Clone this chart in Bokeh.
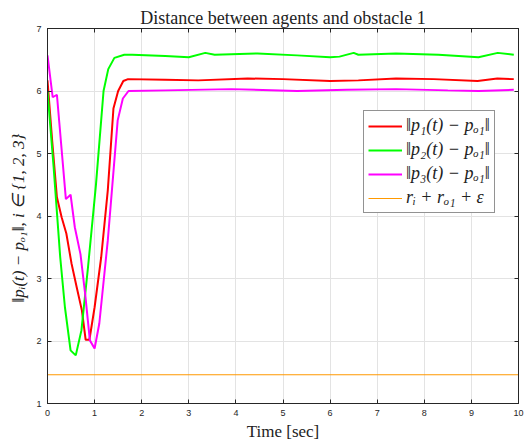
from bokeh.plotting import figure
from bokeh.models import LinearAxis, Legend, LegendItem, FixedTicker, Range1d
from bokeh.embed import file_html
from bokeh.resources import INLINE

t_red = [0, 0.1, 0.2, 0.3, 0.4, 0.51, 0.62, 0.73, 0.81, 0.89, 1.0, 1.14, 1.28, 1.4, 1.5, 1.61, 1.71,
         2.5, 3.2, 4.25, 5.0, 6.0, 6.6, 7.4, 8.2, 9.13, 9.55, 9.9]
red = [6.17, 5.2, 4.30, 3.98, 3.72, 3.24, 2.86, 2.49, 2.02, 2.02, 2.54, 3.34, 4.41, 5.72, 6.0, 6.16, 6.19,
       6.18, 6.17, 6.20, 6.19, 6.16, 6.17, 6.20, 6.19, 6.16, 6.20, 6.19]

t_green = [0, 0.13, 0.27, 0.37, 0.49, 0.60, 0.72, 0.86, 1.03, 1.19, 1.29, 1.42, 1.63, 1.8, 2.5, 3.0,
           3.35, 3.55, 4.46, 5.3, 6.0, 6.2, 6.5, 6.6, 7.4, 8.3, 9.15, 9.56, 9.9]
green = [6.0, 4.78, 3.34, 2.54, 1.85, 1.77, 2.17, 3.18, 4.51, 6.0, 6.35, 6.53, 6.58, 6.58, 6.56, 6.54,
         6.61, 6.58, 6.60, 6.57, 6.54, 6.55, 6.61, 6.58, 6.60, 6.58, 6.54, 6.61, 6.58]

t_mag = [0, 0.11, 0.2, 0.25, 0.39, 0.49, 0.58, 0.70, 0.80, 0.90, 1.0, 1.1, 1.28, 1.49, 1.6, 1.72,
         2.5, 3.9, 5.3, 6.35, 7.4, 8.5, 9.15, 9.9]
mag = [6.57, 5.9, 5.94, 5.5, 4.27, 4.34, 3.82, 3.39, 2.75, 2.01, 1.88, 2.28, 3.61, 5.53, 5.88, 6.0,
       6.01, 6.03, 6.0, 6.02, 6.03, 6.01, 6.0, 6.02]

t_bound = [0, 10]
bound = [1.46, 1.46]

x_ticks = [0, 1, 2, 3, 4, 5, 6, 7, 8, 9, 10]
y_ticks = [1, 2, 3, 4, 5, 6, 7]

labels = ["‖p₁(t) − pₒ₁‖", "‖p₂(t) − pₒ₁‖", "‖p₃(t) − pₒ₁‖", "rᵢ + rₒ₁ + ε"]

SERIF = "Liberation Serif"
SANS = "Liberation Sans"
AX = "#262626"

p = figure(width=528, height=447, output_backend="svg", toolbar_location=None,
           x_range=Range1d(0, 10), y_range=Range1d(1, 7),
           min_border_left=47, min_border_right=10, min_border_bottom=44, min_border_top=28,
           title="Distance between agents and obstacle 1")
p.title.text_font = SERIF
p.title.text_font_size = "18px"
p.title.text_font_style = "normal"
p.title.align = "center"
p.title.text_color = "#222222"
p.title.standoff = 2

p.background_fill_color = "white"
p.border_fill_color = "white"
p.outline_line_color = AX
p.outline_line_width = 1

p.xgrid.ticker = FixedTicker(ticks=x_ticks)
p.ygrid.ticker = FixedTicker(ticks=y_ticks)
p.grid.grid_line_color = "#e3e3e3"
p.grid.grid_line_width = 1

for ax in p.xaxis + p.yaxis:
    ax.major_tick_in = 4
    ax.major_tick_out = 0
    ax.minor_tick_in = 0
    ax.minor_tick_out = 0
    ax.axis_line_color = AX
    ax.major_tick_line_color = AX
    ax.major_label_text_font = SANS
    ax.major_label_text_font_size = "9px"
    ax.major_label_text_color = "#262626"
    ax.axis_label_text_font = SERIF
    ax.axis_label_text_font_size = "17px"
    ax.axis_label_text_font_style = "normal"
    ax.axis_label_text_color = "#222222"

p.xaxis.ticker = FixedTicker(ticks=x_ticks)
p.yaxis.ticker = FixedTicker(ticks=y_ticks)
p.xaxis.axis_label = "Time [sec]"
p.yaxis.axis_label = "‖pᵢ(t) − pₒ₁‖,  i ∈ {1, 2, 3}"
p.yaxis.axis_label_text_font_size = "17px"
p.yaxis.axis_label_text_font_style = "italic"
p.xaxis.major_label_standoff = 6
p.yaxis.major_label_standoff = 6
p.xaxis.axis_label_standoff = 3
p.yaxis.axis_label_standoff = 5

blank_x = {t: "" for t in x_ticks}
blank_y = {t: "" for t in y_ticks}
top = LinearAxis(ticker=FixedTicker(ticks=x_ticks), major_label_overrides=blank_x,
                 major_tick_in=4, major_tick_out=0, minor_tick_in=0, minor_tick_out=0,
                 axis_line_color=AX, major_tick_line_color=AX, major_label_standoff=0)
right = LinearAxis(ticker=FixedTicker(ticks=y_ticks), major_label_overrides=blank_y,
                   major_tick_in=4, major_tick_out=0, minor_tick_in=0, minor_tick_out=0,
                   axis_line_color=AX, major_tick_line_color=AX, major_label_standoff=0)
p.add_layout(top, "above")
p.add_layout(right, "right")

r1 = p.line(t_red, red, line_color="#ff0000", line_width=2)
r2 = p.line(t_green, green, line_color="#00ff00", line_width=2)
r3 = p.line(t_mag, mag, line_color="#ff00ff", line_width=2)
r4 = p.line(t_bound, bound, line_color="#ff9900", line_width=1)

legend = Legend(items=[LegendItem(label=labels[0], renderers=[r1]),
                       LegendItem(label=labels[1], renderers=[r2]),
                       LegendItem(label=labels[2], renderers=[r3]),
                       LegendItem(label=labels[3], renderers=[r4])],
                location=(316, 190))
legend.label_text_font = SERIF
legend.label_text_font_size = "18px"
legend.label_text_font_style = "italic"
legend.label_text_color = "#222222"
legend.glyph_width = 34
legend.glyph_height = 18
legend.label_height = 18
legend.spacing = 3
legend.padding = 4
legend.margin = 0
legend.label_standoff = 4
legend.border_line_color = AX
legend.border_line_width = 1
legend.background_fill_alpha = 1
p.add_layout(legend, "center")

open("out.html", "w").write(file_html(p, INLINE))
